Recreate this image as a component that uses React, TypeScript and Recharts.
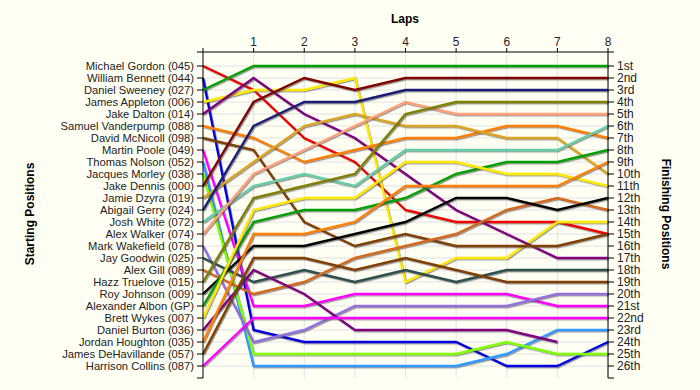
import React from 'react';
import { LineChart, Line, XAxis, YAxis, CartesianGrid } from 'recharts';

const laps = [0, 1, 2, 3, 4, 5, 6, 7, 8];

const drivers = [
  'Michael Gordon (045)',
  'William Bennett (044)',
  'Daniel Sweeney (027)',
  'James Appleton (006)',
  'Jake Dalton (014)',
  'Samuel Vanderpump (088)',
  'David McNicoll (098)',
  'Martin Poole (049)',
  'Thomas Nolson (052)',
  'Jacques Morley (038)',
  'Jake Dennis (000)',
  'Jamie Dzyra (019)',
  'Abigail Gerry (024)',
  'Josh White (072)',
  'Alex Walker (074)',
  'Mark Wakefield (078)',
  'Jay Goodwin (025)',
  'Alex Gill (089)',
  'Hazz Truelove (015)',
  'Roy Johnson (009)',
  'Alexander Albon (GP)',
  'Brett Wykes (007)',
  'Daniel Burton (036)',
  'Jordan Houghton (035)',
  'James DeHavillande (057)',
  'Harrison Collins (087)',
];

const finishLabels = [
  '1st', '2nd', '3rd', '4th', '5th', '6th', '7th', '8th', '9th', '10th',
  '11th', '12th', '13th', '14th', '15th', '16th', '17th', '18th', '19th', '20th',
  '21st', '22nd', '23rd', '24th', '25th', '26th',
];

// position of each driver after every lap (lap 0 = grid)
const gordon = [1, 3, 7, 9, 13, 14, 14, 14, 15];
const bennett = [2, 23, 24, 24, 24, 24, 26, 26, 24];
const sweeney = [3, 1, 1, 1, 1, 1, 1, 1, 1];
const appleton = [4, 3, 3, 2, 19, 17, 17, 14, 14];
const dalton = [5, 2, 5, 7, 10, 13, 15, 17, 17];
const vanderpump = [6, 7, 9, 8, 7, 7, 6, 6, 7];
const mcnicoll = [7, 8, 14, 16, 15, 16, 16, 16, 15];
const poole = [8, 21, 21, 20, 20, 20, 20, 21, 21];
const nolson = [9, 26, 26, 26, 26, 26, 25, 23, 23];
const morley = [10, 25, 25, 25, 25, 25, 24, 25, 25];
const dennis = [11, 4, 2, 3, 2, 2, 2, 2, 2];
const dzyra = [12, 9, 6, 5, 6, 6, 7, 7, 10];
const gerry = [13, 6, 4, 4, 3, 3, 3, 3, 3];
const white = [14, 11, 10, 11, 8, 8, 8, 8, 6];
const walker = [15, 10, 8, 6, 4, 5, 5, 5, 5];
const wakefield = [16, 24, 23, 21, 21, 21, 21, 20, 20];
const goodwin = [17, 19, 18, 19, 18, 19, 18, 18, 18];
const gill = [18, 20, 19, 17, 16, 15, 13, 12, 13];
const truelove = [19, 12, 11, 10, 5, 4, 4, 4, 4];
const johnson = [20, 16, 16, 15, 14, 12, 12, 13, 12];
const albon = [21, 14, 13, 13, 12, 10, 9, 9, 8];
const wykes = [22, 13, 12, 12, 9, 9, 10, 10, 11];
const burton = [23, 18, 20, 23, 23, 23, 23, 24, null];
const houghton = [24, 15, 15, 14, 11, 11, 11, 11, 9];
const dehavillande = [25, 17, 17, 18, 17, 18, 19, 19, 19];
const collins = [26, 22, 22, 22, 22, 22, 22, 22, 22];

const positions = [
  gordon, bennett, sweeney, appleton, dalton, vanderpump, mcnicoll, poole,
  nolson, morley, dennis, dzyra, gerry, white, walker, wakefield, goodwin,
  gill, truelove, johnson, albon, wykes, burton, houghton, dehavillande, collins,
];

const colors = [
  '#F00000', '#0000E0', '#00A000', '#FFE800', '#800080', '#FF8000', '#804000',
  '#FF00FF', '#3399FF', '#80FF00', '#800000', '#DAA520', '#1C1C78', '#66CDAA',
  '#FFA07A', '#9370DB', '#2F4F4F', '#D2691E', '#808000', '#000000',
  '#00A000', '#FFE800', '#800080', '#FF8000', '#804000', '#FF00FF',
];

const data = laps.map((lap, i) => {
  const row: Record<string, number | null> = { lap };
  positions.forEach((p, d) => {
    row[`d${d}`] = p[i];
  });
  return row;
});

const rows = drivers.map((_, i) => i + 1);
const yMin = -1 / 6;
const yMax = 27;
const yTicks = [yMin, ...rows, yMax];

const font = 'Liberation Sans, Arial, sans-serif';
const tickStyle = { fontSize: 11.2, fill: '#222', fontFamily: font };

export default function App() {
  return (
    <div style={{ position: 'absolute', left: 0, top: 0, width: 700, height: 390, background: '#FFFFF4' }}>
      <LineChart width={700} height={390} data={data} margin={{ top: 0, right: 0, left: 0, bottom: 12 }}>
        <defs>
          <filter id="lineShadow" filterUnits="userSpaceOnUse" x="0" y="0" width="700" height="390">
            <feDropShadow dx="1" dy="1.2" stdDeviation="0.3" floodColor="#444" floodOpacity="0.55" />
          </filter>
        </defs>
        <CartesianGrid
          yAxisId="left"
          stroke="#E2E2E2"
          horizontalValues={rows}
          verticalValues={laps.slice(1)}
        />
        <XAxis
          dataKey="lap"
          type="number"
          orientation="top"
          domain={[0, 8]}
          ticks={laps}
          height={52}
          tickSize={4}
          tickMargin={2}
          tickFormatter={(v) => (v === 0 ? '' : String(v))}
          tick={{ ...tickStyle, fontSize: 12 }}
          stroke="#000"
        />
        <YAxis
          yAxisId="left"
          type="number"
          reversed
          domain={[yMin, yMax]}
          ticks={yTicks}
          interval={0}
          width={203}
          tickSize={6}
          tickMargin={3}
          tickFormatter={(v) => drivers[v - 1] ?? ''}
          tick={tickStyle}
          stroke="#000"
        />
        <YAxis
          yAxisId="right"
          orientation="right"
          type="number"
          reversed
          domain={[yMin, yMax]}
          ticks={yTicks}
          interval={0}
          width={92}
          tickSize={6}
          tickMargin={3}
          tickFormatter={(v) => finishLabels[v - 1] ?? ''}
          tick={{ ...tickStyle, fontSize: 12 }}
          stroke="#000"
        />
        {/* invisible series so the right-hand axis is drawn */}
        <Line
          yAxisId="right"
          dataKey="d2"
          stroke="none"
          dot={false}
          activeDot={false}
          legendType="none"
          isAnimationActive={false}
        />
        {positions.map((_, d) => (
          <Line
            key={d}
            yAxisId="left"
            type="linear"
            dataKey={`d${d}`}
            name={drivers[d]}
            stroke={colors[d]}
            strokeWidth={2.4}
            dot={false}
            activeDot={false}
            filter="url(#lineShadow)"
            isAnimationActive={false}
          />
        ))}
        <text x={405} y={23} textAnchor="middle" fontSize={12} fontWeight="bold" fontFamily={font} fill="#000">
          Laps
        </text>
        <text x={34} y={214} transform="rotate(-90 34 214)" textAnchor="middle" fontSize={12} fontWeight="bold" fontFamily={font} fill="#000">
          Starting Positions
        </text>
        <text x={662} y={214} transform="rotate(90 662 214)" textAnchor="middle" fontSize={12} fontWeight="bold" fontFamily={font} fill="#000">
          Finishing Positions
        </text>
      </LineChart>
    </div>
  );
}
